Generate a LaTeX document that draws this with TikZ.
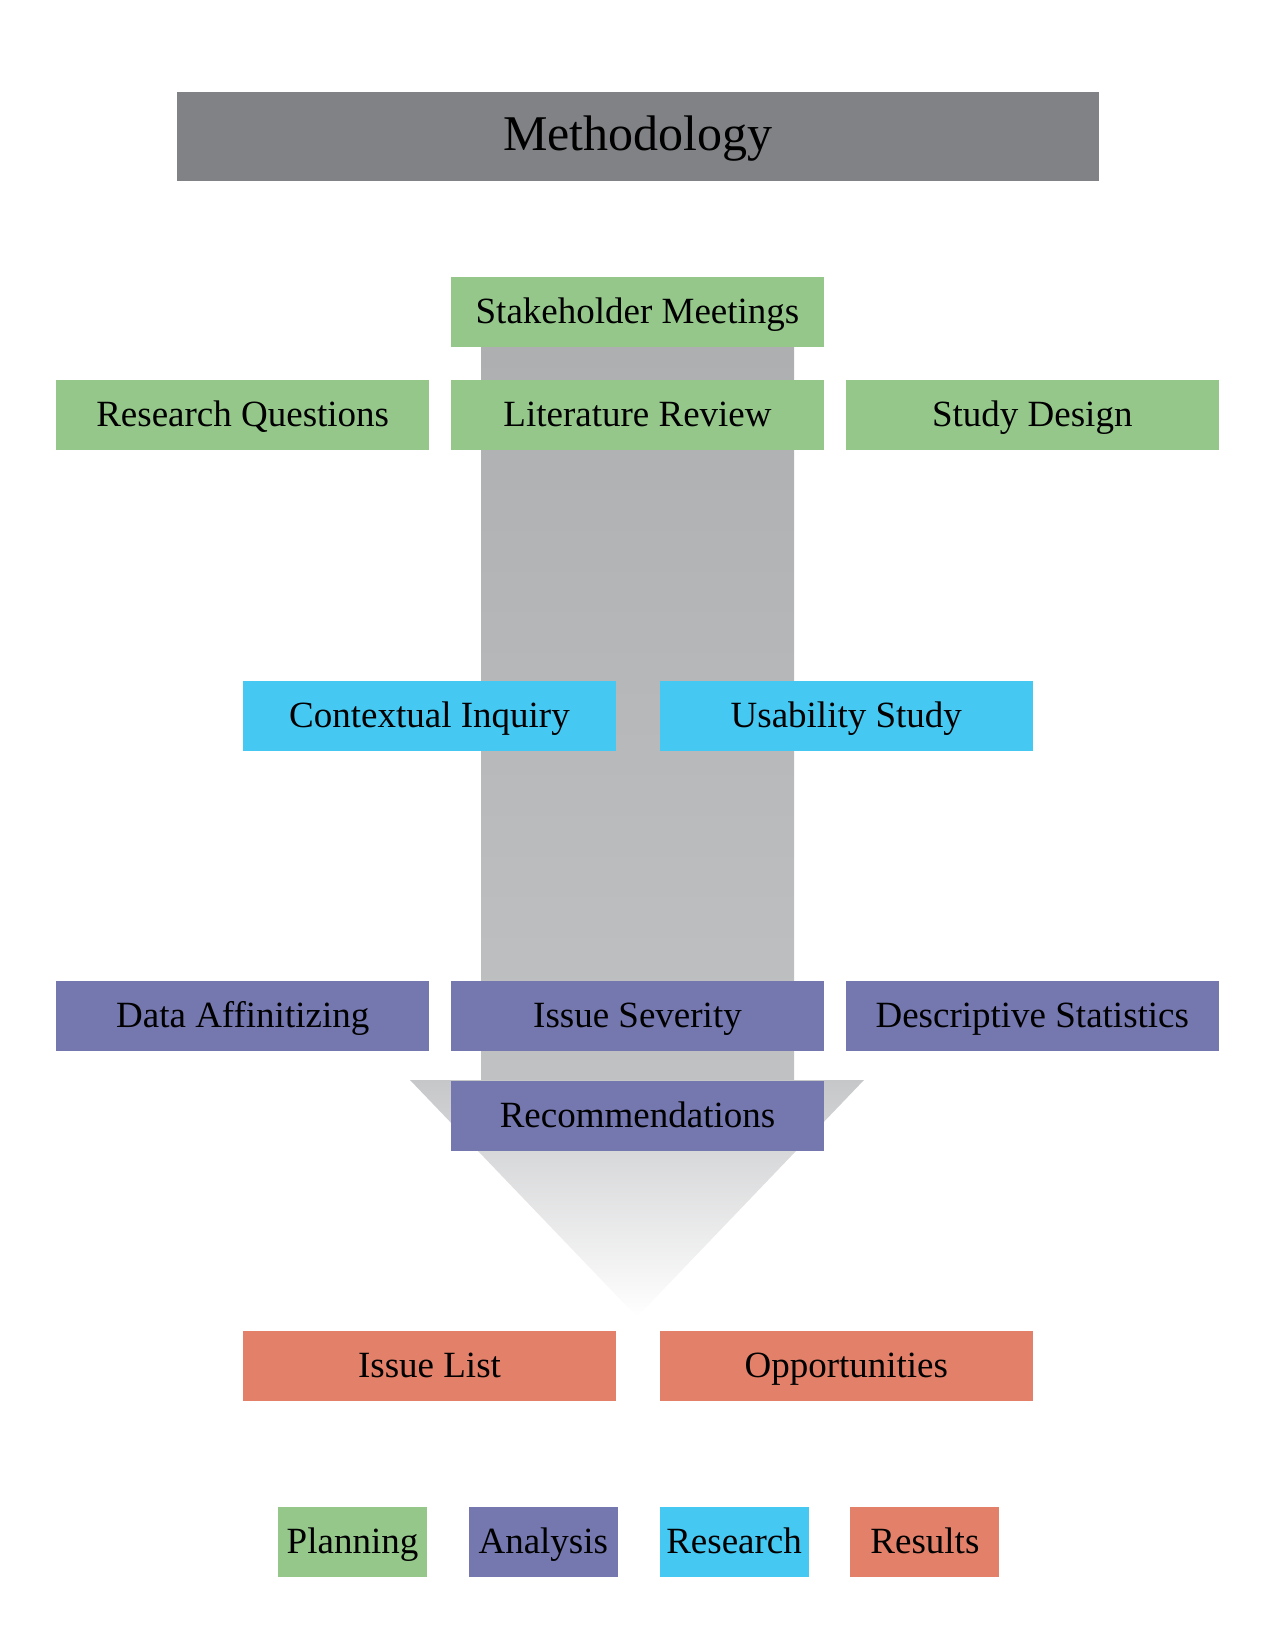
\documentclass[tikz,border=0pt]{standalone}
\usepackage{fontspec}
\setmainfont{Liberation Serif}
\usetikzlibrary{positioning}
\definecolor{methgray}{HTML}{808285}
\definecolor{plangreen}{HTML}{95C78B}
\definecolor{anapurple}{HTML}{7577AF}
\definecolor{resblue}{HTML}{45C9F3}
\definecolor{resultred}{HTML}{E2806A}
\definecolor{flowtop}{HTML}{AEAFB1}
\definecolor{flowbottom}{HTML}{C0C1C3}
\definecolor{headtop}{HTML}{C6C7C9}
\tikzstyle{phase box}=[
    rectangle,
    inner sep = 0pt,
    minimum width = 186.5pt,
    minimum height = 35pt,
    text height = 14.5pt,
    text depth = 3pt,
    font = \fontsize{18.5}{20}\selectfont
]
\begin{document}
\begin{tikzpicture}[x=0.5pt, y=-0.5pt,
    plan/.style = {phase box, fill = plangreen},
    ana/.style = {phase box, fill = anapurple},
    res/.style = {phase box, fill = resblue},
    result/.style = {phase box, fill = resultred},
    key/.style = {minimum width = 74.5pt}]
        \useasboundingbox (0,0) rectangle (1275,1650);

        \shade[top color = flowtop, bottom color = flowbottom] (481,347) rectangle (794,1080);
        \shade[top color = headtop, bottom color = white] (410,1080) -- (864,1080) -- (637,1317) -- cycle;

        \node[phase box, fill = methgray, minimum width = 461pt, minimum height = 44.5pt, text height = 18.5pt, text depth = 4.5pt, font = \fontsize{25}{28}\selectfont] (meth) at (638,136.5) {Methodology};

        \node[plan] (stake) at (637.5,312) {Stakeholder Meetings};
        \node[plan] (lit) at (637.5,415) {Literature Review};
        \node[plan] (rq) [left = 10.5pt of lit] {Research Questions};
        \node[plan] (sd) [right = 10.5pt of lit] {Study Design};

        \node[res] (ci) at (429.5,715.5) {Contextual Inquiry};
        \node[res] (us) [right = 21.5pt of ci] {Usability Study};

        \node[ana] (sev) at (637.5,1016) {Issue Severity};
        \node[ana] (aff) [left = 10.5pt of sev] {Data Affinitizing};
        \node[ana] (desc) [right = 10.5pt of sev] {Descriptive Statistics};
        \node[ana] (rec) at (637.5,1115.5) {Recommendations};

        \node[result] (il) at (429.5,1365.5) {Issue List};
        \node[result] (opp) [right = 21.5pt of il] {Opportunities};

        \node[plan, key] (kplan) at (352.5,1541.5) {Planning};
        \node[ana, key] (kana) [right = 20.5pt of kplan] {Analysis};
        \node[res, key] (kres) [right = 20.5pt of kana] {Research};
        \node[result, key] (kresult) [right = 20.5pt of kres] {Results};

    \end{tikzpicture}
\end{document}
